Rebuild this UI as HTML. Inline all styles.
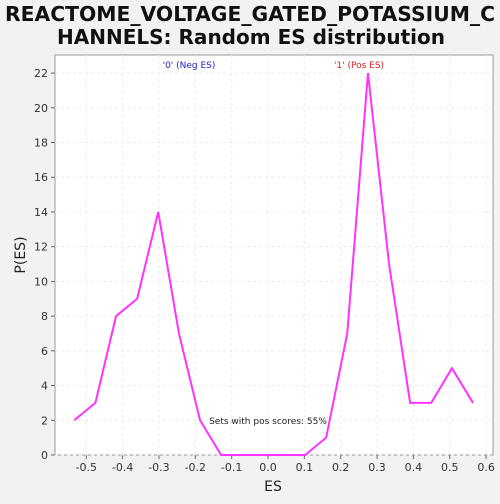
<!DOCTYPE html>
<html><head><meta charset="utf-8"><style>
body{margin:0;background:#f2f2f2;font-family:"DejaVu Sans","Liberation Sans",sans-serif}
</style></head><body>
<svg width="500" height="500" xmlns="http://www.w3.org/2000/svg" font-family="DejaVu Sans, Liberation Sans, sans-serif">
<rect width="500" height="500" fill="#f2f2f2"/>
<text x="250" y="21" text-anchor="middle" font-size="20" font-weight="bold" fill="#111" textLength="490" lengthAdjust="spacingAndGlyphs">REACTOME_VOLTAGE_GATED_POTASSIUM_C</text>
<text x="251" y="44" text-anchor="middle" font-size="20" font-weight="bold" fill="#111" textLength="388" lengthAdjust="spacingAndGlyphs">HANNELS: Random ES distribution</text>
<rect x="55" y="55" width="438" height="400" fill="#fff" stroke="#999"/>
<g id="grid"></g><g id="axes"></g>
<polyline id="line" fill="none" stroke="#ff33ff" stroke-width="2"/>
<text x="189" y="68" text-anchor="middle" font-size="9" fill="#2222cc">'0' (Neg ES)</text>
<text x="359" y="68" text-anchor="middle" font-size="9" fill="#dd2222">'1' (Pos ES)</text>
<text x="268" y="424" text-anchor="middle" font-size="9" fill="#222">Sets with pos scores: 55%</text>
<text x="273" y="491" text-anchor="middle" font-size="14" fill="#222">ES</text>
<text x="25" y="255" text-anchor="middle" font-size="14" fill="#222" transform="rotate(-90 25 255)">P(ES)</text>
</svg>
<script>
const xVals=[-0.533,-0.475,-0.418,-0.36,-0.302,-0.245,-0.187,-0.129,-0.071,-0.013,0.044,0.102,0.16,0.218,0.275,0.333,0.391,0.449,0.506,0.564];
const yVals=[2,3,8,9,14,7,2,0,0,0,0,0,1,7,22,11,3,3,5,3];
const xTicks=[-0.5,-0.4,-0.3,-0.2,-0.1,0.0,0.1,0.2,0.3,0.4,0.5,0.6];
const yTicks=[0,2,4,6,8,10,12,14,16,18,20,22];
const sx=v=>268+v*363.5, sy=v=>455-v*17.36;
const ns="http://www.w3.org/2000/svg";
const g=document.getElementById('grid'),ax=document.getElementById('axes');
xTicks.forEach(t=>{
 const l=document.createElementNS(ns,'line');
 
 
 l.setAttribute('x1',sx(t));l.setAttribute('x2',sx(t));l.setAttribute('y1',55);l.setAttribute('y2',455);
 l.setAttribute('stroke','#ececec');l.setAttribute('stroke-dasharray','3,3');g.appendChild(l);
 const k=document.createElementNS(ns,'line');
 
 
 k.setAttribute('x1',sx(t));k.setAttribute('x2',sx(t));k.setAttribute('y1',455);k.setAttribute('y2',459);k.setAttribute('stroke','#666');ax.appendChild(k);
 const tx=document.createElementNS(ns,'text');
 
 
 tx.setAttribute('x',sx(t));tx.setAttribute('y',471);tx.setAttribute('text-anchor','middle');tx.setAttribute('font-size','11');tx.setAttribute('fill','#333');
 tx.textContent=t.toFixed(1);ax.appendChild(tx);
});
yTicks.forEach(t=>{
 const l=document.createElementNS(ns,'line');
 
 
 l.setAttribute('x1',55);l.setAttribute('x2',493);l.setAttribute('y1',sy(t));l.setAttribute('y2',sy(t));
 l.setAttribute('stroke','#ececec');l.setAttribute('stroke-dasharray','3,3');g.appendChild(l);
 const k=document.createElementNS(ns,'line');
 
 
 k.setAttribute('x1',51);k.setAttribute('x2',55);k.setAttribute('y1',sy(t));k.setAttribute('y2',sy(t));k.setAttribute('stroke','#666');ax.appendChild(k);
 const tx=document.createElementNS(ns,'text');
 
 
 tx.setAttribute('x',48);tx.setAttribute('y',sy(t)+4);tx.setAttribute('text-anchor','end');tx.setAttribute('font-size','11');tx.setAttribute('fill','#333');
 tx.textContent=t;ax.appendChild(tx);
});
document.getElementById('line').setAttribute('points',xVals.map((x,i)=>sx(x)+','+sy(yVals[i])).join(' '));
</script>
</body></html>
